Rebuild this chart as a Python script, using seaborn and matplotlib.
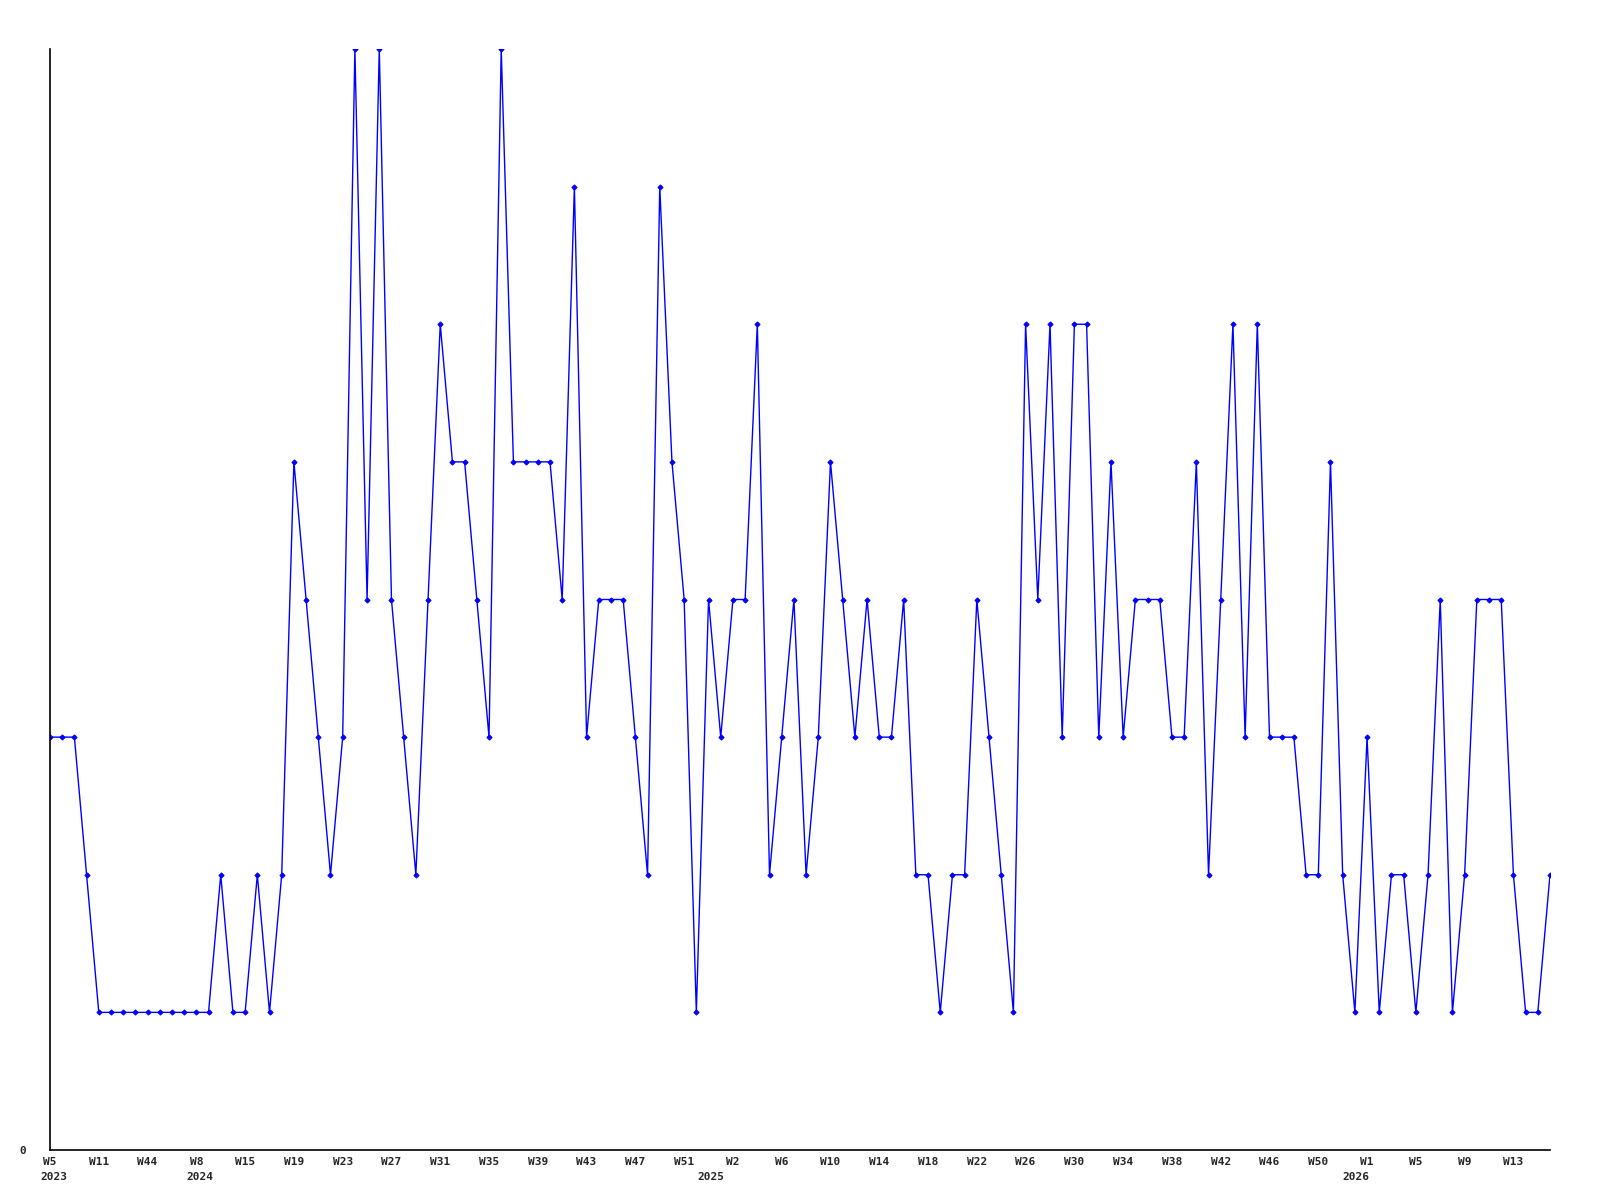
import numpy as np
import pandas as pd
import matplotlib
matplotlib.use("Agg")
import matplotlib.pyplot as plt
import seaborn as sns

# weekly counts
values = [3, 3, 3, 2, 1, 1, 1, 1, 1, 1, 1, 1, 1, 1, 2, 1, 1, 2, 1, 2,
          5, 4, 3, 2, 3, 8, 4, 8, 4, 3, 2, 4, 6, 5, 5, 4, 3, 8, 5, 5,
          5, 5, 4, 7, 3, 4, 4, 4, 3, 2, 7, 5, 4, 1, 4, 3, 4, 4, 6, 2,
          3, 4, 2, 3, 5, 4, 3, 4, 3, 3, 4, 2, 2, 1, 2, 2, 4, 3, 2, 1,
          6, 4, 6, 3, 6, 6, 3, 5, 3, 4, 4, 4, 3, 3, 5, 2, 4, 6, 3, 6,
          3, 3, 3, 2, 2, 5, 2, 1, 3, 1, 2, 2, 1, 2, 4, 1, 2, 4, 4, 4,
          2, 1, 1, 2]

week_labels = ["W5", "W11", "W44", "W8", "W15", "W19", "W23", "W27", "W31",
               "W35", "W39", "W43", "W47", "W51", "W2", "W6", "W10", "W14",
               "W18", "W22", "W26", "W30", "W34", "W38", "W42", "W46", "W50",
               "W1", "W5", "W9", "W13"]
week_ticks = list(range(0, 121, 4))

years = ["2023", "2024", "2025", "2026"]
year_pos = [0.3, 12.3, 54.2, 107.1]

df = pd.DataFrame({"idx": np.arange(len(values)), "count": values})

sns.set_style("white")
plt.rcParams["font.family"] = ["DejaVu Sans Mono", "DejaVu Sans"]
plt.rcParams["font.weight"] = "bold"

fig = plt.figure(figsize=(16, 12), dpi=100)
ax = fig.add_axes([50 / 1600, 1 - 1150 / 1200, 1500 / 1600, 1101 / 1200])

sns.lineplot(data=df, x="idx", y="count", ax=ax, color="#0000ff",
             linewidth=1, marker="D", markersize=2.6,
             markeredgecolor="#0000ff", markerfacecolor="#0000ff")

ax.set_xlim(0, len(values) - 1)
ax.set_ylim(0, 8)

for side in ["top", "right"]:
    ax.spines[side].set_visible(False)
for side in ["left", "bottom"]:
    ax.spines[side].set_color("black")
    ax.spines[side].set_linewidth(1.2)

ax.set_yticks([0])
ax.set_yticklabels(["0"], fontsize=8, fontweight="bold")
ax.tick_params(axis="y", length=0, pad=17)

ax.set_xticks(week_ticks)
ax.set_xticklabels(week_labels, fontsize=8, fontweight="bold")
ax.tick_params(axis="x", length=0, pad=5)

for yr, xp in zip(years, year_pos):
    ax.annotate(yr, xy=(xp, 0), xycoords=("data", "axes fraction"),
                xytext=(0, -16), textcoords="offset points",
                ha="center", va="top", fontsize=8, fontweight="bold")

ax.set_xlabel("")
ax.set_ylabel("")
ax.grid(False)

fig.savefig("out.png", dpi=100, facecolor="white")
